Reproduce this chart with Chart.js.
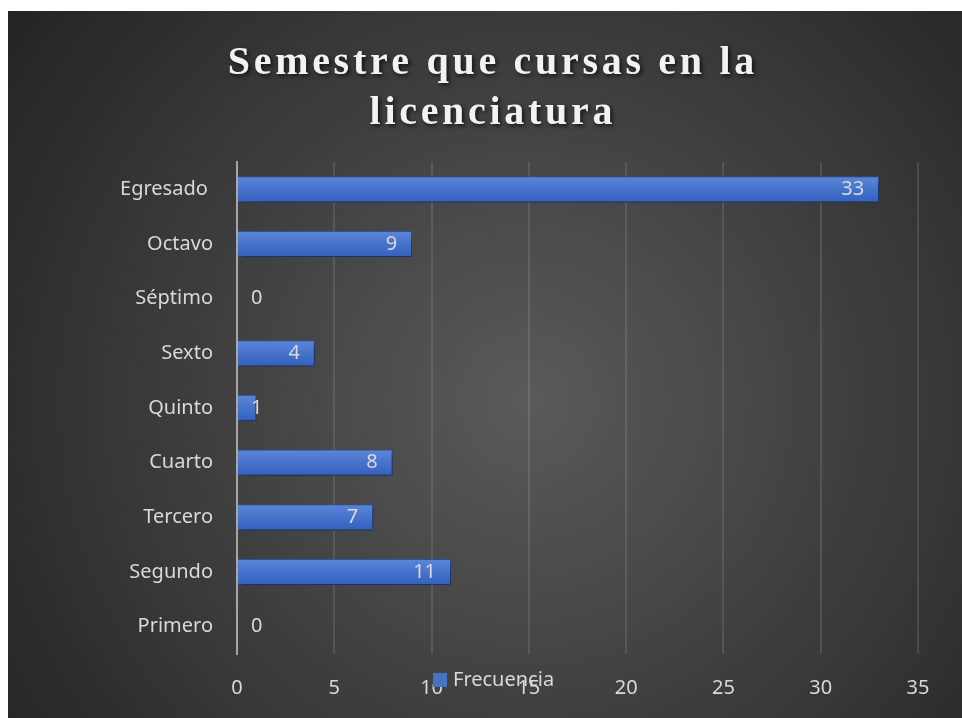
<!DOCTYPE html>
<html>
<head>
<meta charset="utf-8">
<title>Semestre que cursas en la licenciatura</title>
<script src="https://cdn.jsdelivr.net/npm/chart.js@4"></script>
<style>
  html, body { margin: 0; padding: 0; background: #fff; }
  #wrap { position: absolute; left: 8px; top: 11px; width: 954px; height: 707px; }
</style>
</head>
<body>
<div id="wrap"><canvas id="chart"></canvas></div>
<script>
// categories top to bottom, as shown in the chart
const semestres = ['Egresado ', 'Octavo', 'Séptimo', 'Sexto', 'Quinto', 'Cuarto', 'Tercero', 'Segundo', 'Primero'];
const frecuencia = [33, 9, 0, 4, 1, 8, 7, 11, 0];
const xTicks = [0, 5, 10, 15, 20, 25, 30, 35];
const tituloLineas = ['Semestre que cursas en la', 'licenciatura'];
const serieNombre = 'Frecuencia';

const textColor = '#d9d9d9';
const sans = '"Noto Sans", sans-serif';

// dark radial background + title
const fondo = {
  id: 'fondo',
  beforeDraw(chart) {
    const { ctx, width, height } = chart;
    const g = ctx.createRadialGradient(520, 390, 0, 520, 390, 640);
    g.addColorStop(0, '#5a5a5a');
    g.addColorStop(1, '#242424');
    ctx.save();
    ctx.fillStyle = g;
    ctx.fillRect(0, 0, width, height);
    ctx.restore();
  },
  afterDraw(chart) {
    const ctx = chart.ctx;
    ctx.save();
    ctx.font = 'bold 40px "Liberation Serif", "Times New Roman", serif';
    ctx.fillStyle = '#f2f2f2';
    ctx.textBaseline = 'alphabetic';
    ctx.shadowColor = 'rgba(0,0,0,0.7)';
    ctx.shadowBlur = 4;
    ctx.shadowOffsetX = 2;
    ctx.shadowOffsetY = 2;
    const spacing = 3.7;
    const cx = 483;
    tituloLineas.forEach((line, i) => {
      const chars = Array.from(line);
      const widths = chars.map((c) => ctx.measureText(c).width);
      const total = widths.reduce((a, b) => a + b, 0) + spacing * (chars.length - 1);
      let x = cx - total / 2;
      const y = 63 + i * 50;
      chars.forEach((c, k) => {
        ctx.fillText(c, x, y);
        x += widths[k] + spacing;
      });
    });
    ctx.restore();
  }
};

// bar shadows
const sombra = {
  id: 'sombra',
  beforeDatasetsDraw(chart) {
    const ctx = chart.ctx;
    ctx.save();
    ctx.shadowColor = 'rgba(0,0,0,0.55)';
    ctx.shadowBlur = 6;
    ctx.shadowOffsetX = 2;
    ctx.shadowOffsetY = 3;
  },
  afterDatasetsDraw(chart) {
    chart.ctx.restore();
  }
};

// data labels at inside end, legend below plot
const etiquetas = {
  id: 'etiquetas',
  afterDatasetsDraw(chart) {
    const ctx = chart.ctx;
    const meta = chart.getDatasetMeta(0);
    const base = chart.scales.x.getPixelForValue(0);
    ctx.save();
    ctx.font = '20px ' + sans;
    ctx.fillStyle = textColor;
    ctx.textBaseline = 'middle';
    meta.data.forEach((bar, i) => {
      const txt = String(frecuencia[i]);
      const w = ctx.measureText(txt).width;
      if (bar.x - base > w + 20) {
        ctx.textAlign = 'right';
        ctx.fillText(txt, bar.x - 15, bar.y);
      } else {
        ctx.textAlign = 'left';
        ctx.fillText(txt, base + 14, bar.y);
      }
    });
    // legend
    ctx.fillStyle = '#4472c4';
    ctx.fillRect(425, 662, 14, 14);
    ctx.fillStyle = textColor;
    ctx.textAlign = 'left';
    ctx.fillText(serieNombre, 445, 669);
    ctx.restore();
  }
};

function barGradient(context) {
  const chart = context.chart;
  const y = chart.scales && chart.scales.y;
  if (!chart.chartArea || !y) return '#4472c4';
  const c = y.getPixelForValue(context.dataIndex);
  const g = chart.ctx.createLinearGradient(0, c - 13, 0, c + 13);
  g.addColorStop(0, '#5b86d9');
  g.addColorStop(1, '#3260bd');
  return g;
}

new Chart(document.getElementById('chart'), {
  type: 'bar',
  data: {
    labels: semestres,
    datasets: [{
      label: serieNombre,
      data: frecuencia,
      backgroundColor: barGradient,
      borderColor: '#2f59ad',
      borderWidth: 1,
      borderSkipped: 'left',
      barPercentage: 1,
      categoryPercentage: 0.48
    }]
  },
  options: {
    indexAxis: 'y',
    responsive: true,
    maintainAspectRatio: false,
    animation: false,
    layout: { padding: { top: 151, right: 44, bottom: 0, left: 0 } },
    plugins: {
      legend: { display: false },
      title: { display: false },
      tooltip: { enabled: false }
    },
    scales: {
      x: {
        min: 0,
        max: 35,
        afterFit(scale) { scale.height = 64; },
        afterBuildTicks(scale) { scale.ticks = xTicks.map((v) => ({ value: v })); },
        ticks: { color: textColor, font: { family: sans, size: 20 }, padding: 22 },
        grid: { color: 'rgba(255,255,255,0.11)', lineWidth: 2, drawTicks: false },
        border: { display: false }
      },
      y: {
        afterFit(scale) { scale.width = 229; },
        ticks: { color: textColor, font: { family: sans, size: 20 }, padding: 24 },
        grid: { display: false, drawTicks: false },
        border: { display: true, color: '#a6a6a6', width: 2 }
      }
    }
  },
  plugins: [fondo, sombra, etiquetas]
});
</script>
</body>
</html>
